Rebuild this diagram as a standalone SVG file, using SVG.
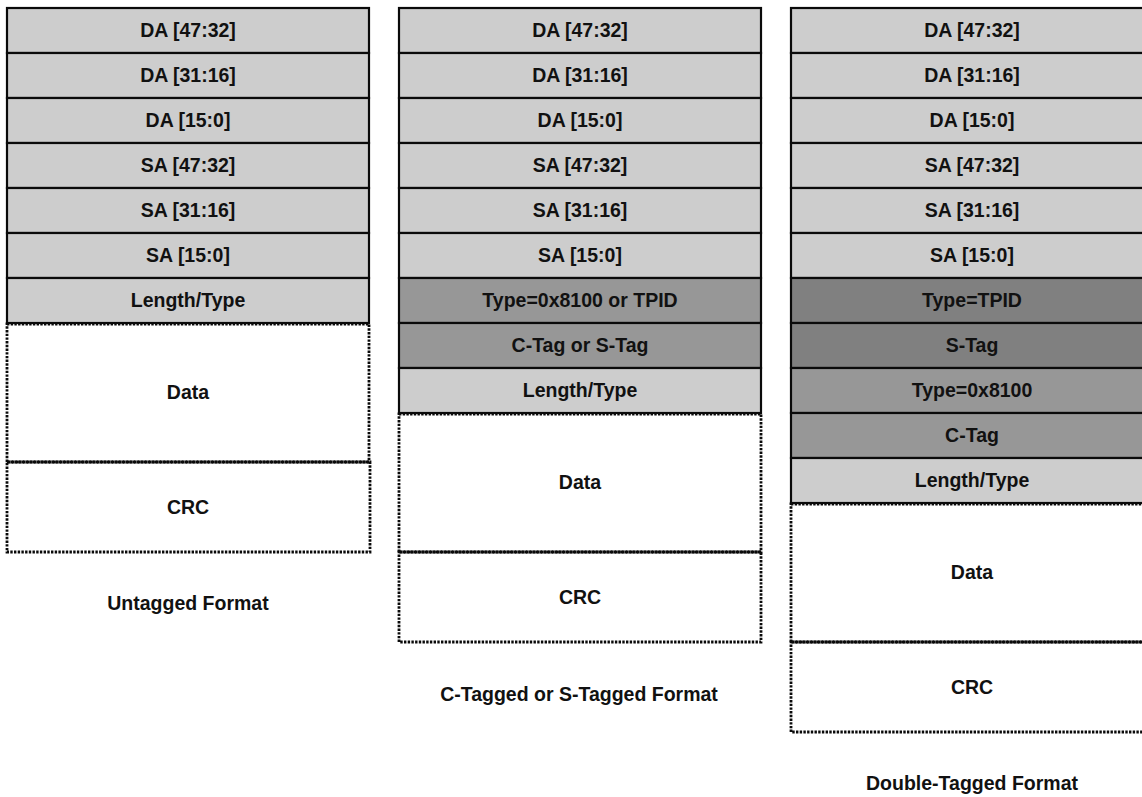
<svg xmlns="http://www.w3.org/2000/svg" width="1142" height="797" viewBox="0 0 1142 797">
<style>
.bg{fill:#ffffff}
.f{stroke:#0a0a0a;stroke-width:2.2}
.l{fill:#cdcdcd}
.m{fill:#979797}
.d{fill:#808080}
.dot{fill:none;stroke:#0a0a0a;stroke-width:2.8;stroke-dasharray:2.4 1.3}
text{font-family:"Liberation Sans",Arial,sans-serif;font-weight:bold;font-size:19.5px;fill:#111;text-anchor:middle}
</style>
<rect class="bg" x="0" y="0" width="1142" height="797"/>
<g id="untagged">
<rect class="f l" x="7" y="8" width="362" height="45"/><text x="188" y="37">DA [47:32]</text>
<rect class="f l" x="7" y="53" width="362" height="45"/><text x="188" y="82">DA [31:16]</text>
<rect class="f l" x="7" y="98" width="362" height="45"/><text x="188" y="127">DA [15:0]</text>
<rect class="f l" x="7" y="143" width="362" height="45"/><text x="188" y="172">SA [47:32]</text>
<rect class="f l" x="7" y="188" width="362" height="45"/><text x="188" y="217">SA [31:16]</text>
<rect class="f l" x="7" y="233" width="362" height="45"/><text x="188" y="262">SA [15:0]</text>
<rect class="f l" x="7" y="278" width="362" height="45"/><text x="188" y="307">Length/Type</text>
<rect class="dot" x="7" y="324" width="362" height="138"/><text x="188" y="399">Data</text>
<rect class="dot" x="7" y="462" width="363" height="90"/><text x="188" y="514">CRC</text>
<text x="188" y="610">Untagged Format</text>
</g>
<g id="single-tagged">
<rect class="f l" x="399" y="8" width="362" height="45"/><text x="580" y="37">DA [47:32]</text>
<rect class="f l" x="399" y="53" width="362" height="45"/><text x="580" y="82">DA [31:16]</text>
<rect class="f l" x="399" y="98" width="362" height="45"/><text x="580" y="127">DA [15:0]</text>
<rect class="f l" x="399" y="143" width="362" height="45"/><text x="580" y="172">SA [47:32]</text>
<rect class="f l" x="399" y="188" width="362" height="45"/><text x="580" y="217">SA [31:16]</text>
<rect class="f l" x="399" y="233" width="362" height="45"/><text x="580" y="262">SA [15:0]</text>
<rect class="f m" x="399" y="278" width="362" height="45"/><text x="580" y="307">Type=0x8100 or TPID</text>
<rect class="f m" x="399" y="323" width="362" height="45"/><text x="580" y="352">C-Tag or S-Tag</text>
<rect class="f l" x="399" y="368" width="362" height="45"/><text x="580" y="397">Length/Type</text>
<rect class="dot" x="399" y="414" width="362" height="138"/><text x="580" y="489">Data</text>
<rect class="dot" x="399" y="552" width="362" height="90"/><text x="580" y="604">CRC</text>
<text x="579" y="701">C-Tagged or S-Tagged Format</text>
</g>
<g id="double-tagged">
<rect class="f l" x="791" y="8" width="362" height="45"/><text x="972" y="37">DA [47:32]</text>
<rect class="f l" x="791" y="53" width="362" height="45"/><text x="972" y="82">DA [31:16]</text>
<rect class="f l" x="791" y="98" width="362" height="45"/><text x="972" y="127">DA [15:0]</text>
<rect class="f l" x="791" y="143" width="362" height="45"/><text x="972" y="172">SA [47:32]</text>
<rect class="f l" x="791" y="188" width="362" height="45"/><text x="972" y="217">SA [31:16]</text>
<rect class="f l" x="791" y="233" width="362" height="45"/><text x="972" y="262">SA [15:0]</text>
<rect class="f d" x="791" y="278" width="362" height="45"/><text x="972" y="307">Type=TPID</text>
<rect class="f d" x="791" y="323" width="362" height="45"/><text x="972" y="352">S-Tag</text>
<rect class="f m" x="791" y="368" width="362" height="45"/><text x="972" y="397">Type=0x8100</text>
<rect class="f m" x="791" y="413" width="362" height="45"/><text x="972" y="442">C-Tag</text>
<rect class="f l" x="791" y="458" width="362" height="45"/><text x="972" y="487">Length/Type</text>
<rect class="dot" x="791" y="504" width="362" height="138"/><text x="972" y="579">Data</text>
<rect class="dot" x="791" y="642" width="362" height="90"/><text x="972" y="694">CRC</text>
<text x="972" y="790">Double-Tagged Format</text>
</g>
<g id="connectors"></g>
</svg>
